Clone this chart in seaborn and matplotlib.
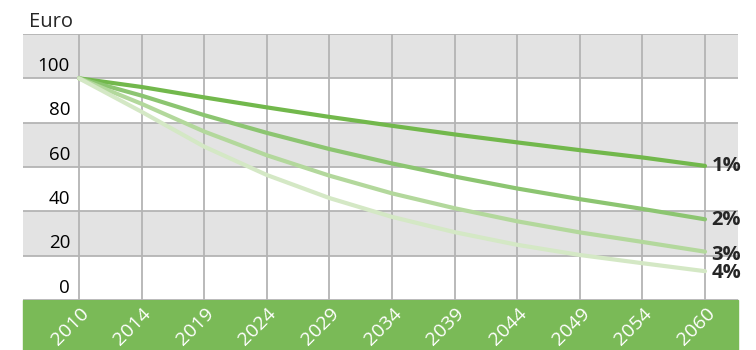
import numpy as np
import pandas as pd
import matplotlib
matplotlib.use("Agg")
import matplotlib.pyplot as plt
import seaborn as sns
from matplotlib.patches import Rectangle
from matplotlib.transforms import ScaledTranslation, blended_transform_factory

# values (Euro, start value 100)
years = ["2010", "2014", "2019", "2024", "2029", "2034", "2039", "2044", "2049", "2054", "2060"]
rates = ["1%", "2%", "3%", "4%"]
val_1 = [100, 96.1, 91.4, 86.9, 82.6, 78.6, 74.7, 71.1, 67.6, 64.3, 60.5]
val_2 = [100, 92.2, 83.4, 75.4, 68.1, 61.6, 55.7, 50.3, 45.5, 41.1, 36.4]
val_3 = [100, 88.5, 76.0, 65.3, 56.1, 48.1, 41.4, 35.5, 30.5, 26.2, 21.8]
val_4 = [100, 84.9, 69.2, 56.4, 46.0, 37.5, 30.6, 24.9, 20.3, 16.6, 13.0]
yticks = [0, 20, 40, 60, 80, 100]

colors = ["#72b84c", "#8cc571", "#b3d89c", "#d4e8c5"]
green = "#7aba57"
band = "#e3e3e3"
gridc = "#b4b4b4"

df = pd.DataFrame({
    "year": years * 4,
    "value": val_1 + val_2 + val_3 + val_4,
    "rate": [r for r in rates for _ in years],
})

sns.set_style("white")
plt.rcParams["font.family"] = ["Open Sans", "DejaVu Sans"]

fig = plt.figure(figsize=(7.56, 3.5), dpi=100)
W, H = 756, 350
ax = fig.add_axes([23 / W, 50 / H, (738 - 23) / W, (300 - 34) / H])

# green band under the plot
fig.patches.append(Rectangle((23 / W, 0), (738 - 23) / W, 50 / H,
                             transform=fig.transFigure, color=green, zorder=-5))

for lo in [20, 60, 100]:
    ax.axhspan(lo, lo + 20, color=band, zorder=0, lw=0)
for y in range(0, 121, 20):
    ax.axhline(y, color=gridc, lw=1.3, zorder=1)
for i in range(len(years)):
    ax.plot([i, i], [0, 120], color=gridc, lw=1.3, zorder=1)

sns.lineplot(data=df, x="year", y="value", hue="rate", palette=colors,
             linewidth=3, legend=False, ax=ax, zorder=3)

px = 10 / (705 - 79)
ax.set_xlim(-(79 - 23) * px, 10 + (738 - 705) * px)
ax.set_ylim(0, 120)
for s in ax.spines.values():
    s.set_visible(False)

ax.set_xticks([])
ax.set_yticks([])
ax.set_ylabel("")
ax.set_xlabel("")

# rotated year labels inside the green band
trans = blended_transform_factory(ax.transData, fig.transFigure)
off = ScaledTranslation(-9 / 100, 0, fig.dpi_scale_trans)
for i, yr in enumerate(years):
    ax.text(i, 23 / H, yr, transform=trans + off, rotation=45,
            ha="center", va="center", color="white", fontsize=14,
            clip_on=False)

for v in yticks:
    ax.text(-(79 - 70) * px, v + 1.5, str(v), ha="right", va="bottom",
            fontsize=13.5, color="black")

ends = [val_1[-1], val_2[-1], val_3[-1], val_4[-1]]
shifts = [0, -0.5, -1.5, -1.0]
for r, e, sh in zip(rates, ends, shifts):
    ax.text(10.1, e + sh, r, ha="left", va="center", fontsize=14.5,
            fontweight="bold", clip_on=False)

fig.text(29 / W, 1 - 22 / H, "Euro", ha="left", va="center", fontsize=14.5)

fig.savefig("out.png", dpi=100)
